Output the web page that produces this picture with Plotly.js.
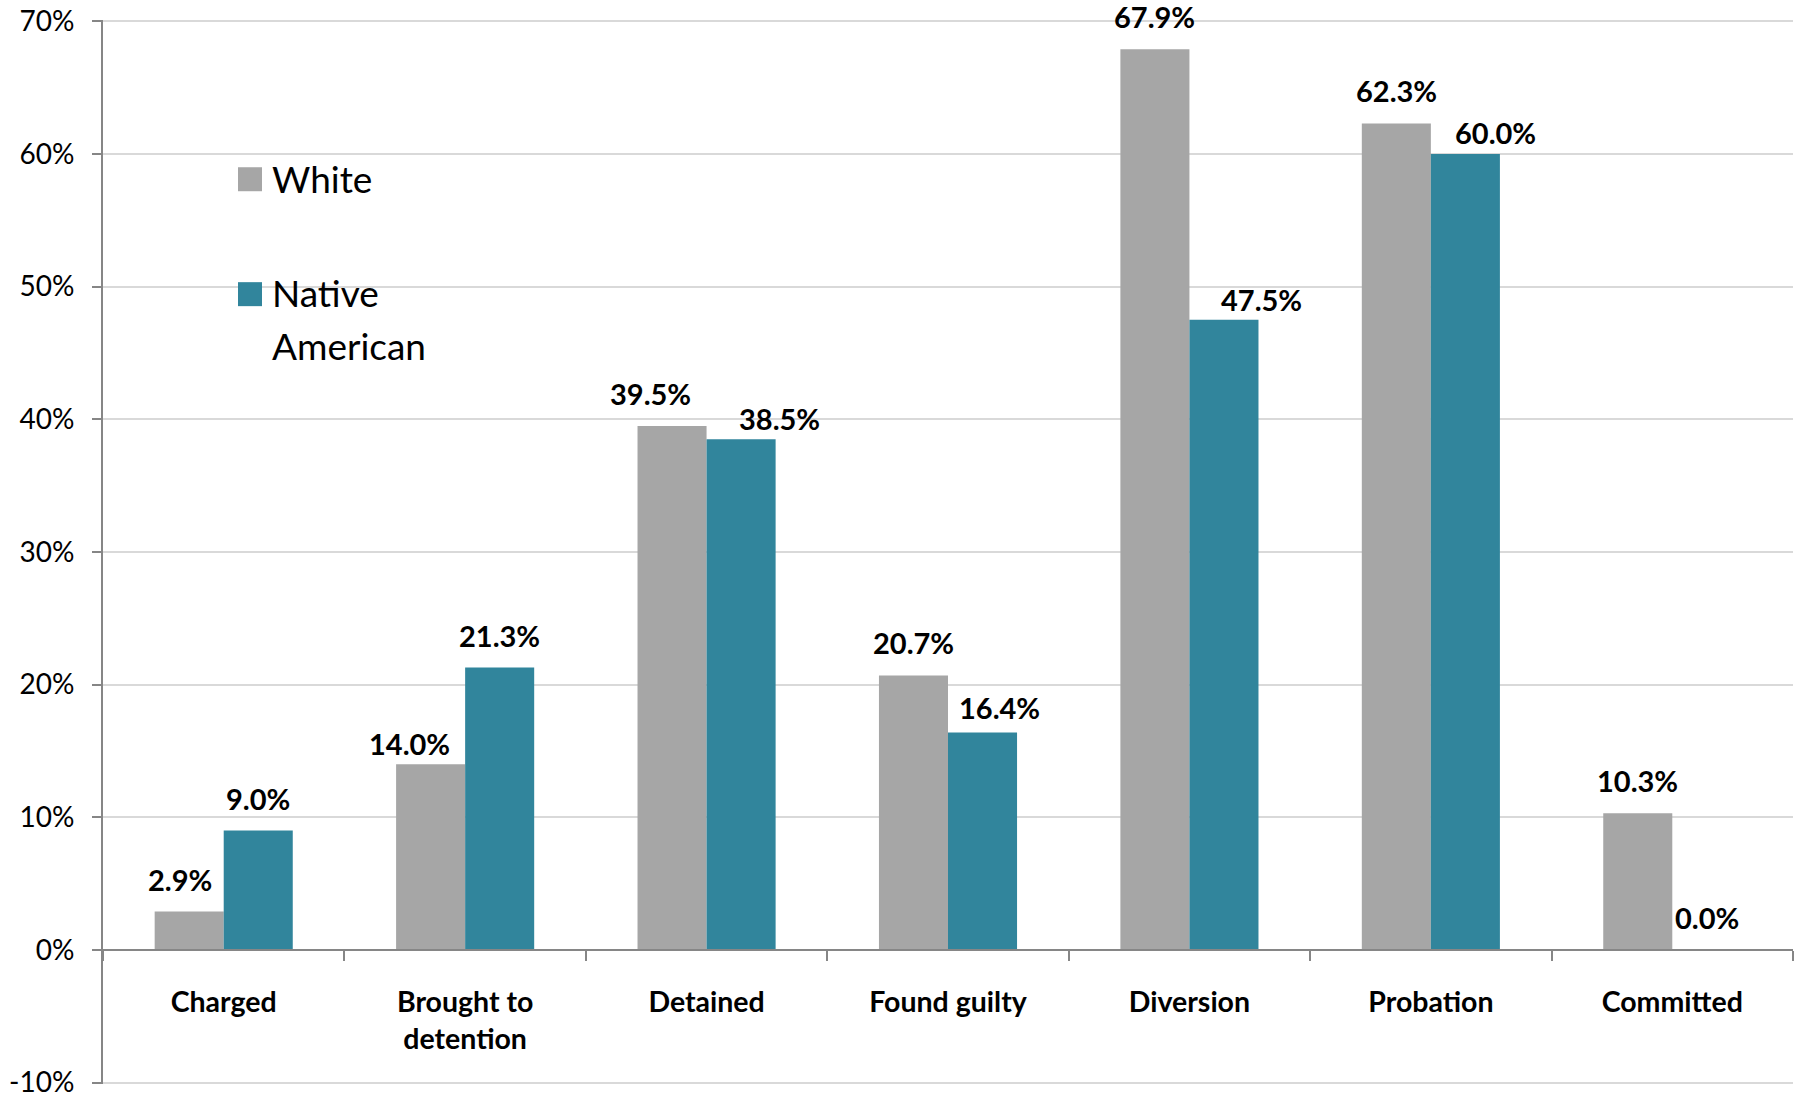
<!DOCTYPE html>
<html>
<head>
<meta charset="utf-8">
<script src="https://cdn.plot.ly/plotly-3.0.1.min.js"></script>
<style>
  html, body { margin: 0; padding: 0; background: #ffffff; }
  #chart { width: 1803px; height: 1097px; }
</style>
</head>
<body>
<div id="chart"></div>
<script>
// Case-processing stages
const stages = ['Charged', 'Brought to<br>detention', 'Detained', 'Found guilty', 'Diversion', 'Probation', 'Committed'];

// Percentages per group
const seriesNames = ['White', 'Native American'];
const whiteValues = [2.9, 14.0, 39.5, 20.7, 67.9, 62.3, 10.3];
const nativeValues = [9.0, 21.3, 38.5, 16.4, 47.5, 60.0, 0.0];

// Value axis ticks
const yTickVals = [-10, 0, 10, 20, 30, 40, 50, 60, 70];
const yTickText = ['-10%', '0%', '10%', '20%', '30%', '40%', '50%', '60%', '70%'];

// Hand-placed label offsets (px; +x right, +y down) so neighbouring labels don't collide
const labelNudge = [
  { dx: [-9, -21, -22, 0, 0, 0, 0], dy: [0, 12, 0, 0, 0, 0, 0] },
  { dx: [0, 0, 38, 17, 38, 30, 0], dy: [0, 1, 12, 8, 12, 11, 0] }
];

const colors = ['#A6A6A6', '#31859C'];
const FONT = 'Lato, "Open Sans", sans-serif';
const W = 1803, H = 1097;
// Range is padded slightly so the end gridlines (-10% and 70%) are kept
const Y_RANGE = [-10.1, 70.1];
const M = { l: 103, r: 10, t: 19.67, b: 12.67 };
const BARGAP = 0.428;

const plotW = W - M.l - M.r;
const plotH = H - M.t - M.b;
const px2x = p => (p - M.l) / plotW;
const px2y = p => (H - M.b - p) / plotH;

const values = [whiteValues, nativeValues];

const traces = values.map((vals, i) => ({
  type: 'bar',
  name: seriesNames[i],
  x: stages,
  y: vals,
  marker: { color: colors[i], line: { width: 0 } },
  hoverinfo: 'skip',
  showlegend: false
}));

// Value labels above each bar
const halfBar = (1 - BARGAP) / 4;
const annotations = [];
values.forEach((vals, i) => {
  vals.forEach((v, j) => {
    annotations.push({
      x: j + (i === 0 ? -halfBar : halfBar),
      y: v,
      xref: 'x', yref: 'y',
      text: v.toFixed(1) + '%',
      showarrow: false,
      xanchor: 'center', yanchor: 'bottom',
      xshift: labelNudge[i].dx[j],
      yshift: 13 - labelNudge[i].dy[j],
      font: { family: FONT, size: 29, color: '#000000', weight: 'bold' }
    });
  });
});

// Legend: swatches with labels
const legendRows = [
  { swatchTop: 167, lines: [{ text: 'White', cy: 178 }] },
  { swatchTop: 282, lines: [{ text: 'Native', cy: 292 }, { text: 'American', cy: 345 }] }
];
const shapes = [];
legendRows.forEach((row, i) => {
  shapes.push({
    type: 'rect', xref: 'paper', yref: 'paper',
    x0: px2x(238), x1: px2x(262),
    y0: px2y(row.swatchTop + 24), y1: px2y(row.swatchTop),
    fillcolor: colors[i], line: { width: 0 }
  });
  row.lines.forEach(l => {
    annotations.push({
      xref: 'paper', yref: 'paper',
      x: px2x(270), y: px2y(l.cy),
      xanchor: 'left', yanchor: 'middle',
      text: l.text, showarrow: false,
      font: { family: FONT, size: 37, color: '#000000' }
    });
  });
});

const layout = {
  width: W, height: H,
  margin: M,
  paper_bgcolor: '#ffffff',
  plot_bgcolor: '#ffffff',
  barmode: 'group',
  bargap: BARGAP,
  bargroupgap: 0,
  showlegend: false,
  font: { family: FONT, color: '#000000' },
  xaxis: {
    type: 'category',
    anchor: 'free',
    position: (0 - Y_RANGE[0]) / (Y_RANGE[1] - Y_RANGE[0]),
    showline: true, linecolor: '#868686', linewidth: 2,
    ticks: 'outside', tickson: 'boundaries', ticklen: 10, tickwidth: 2, tickcolor: '#868686',
    ticklabelstandoff: 27,
    showgrid: false, zeroline: false,
    tickfont: { family: FONT, size: 28.5, color: '#000000', weight: 'bold' }
  },
  yaxis: {
    range: Y_RANGE,
    tickvals: yTickVals, ticktext: yTickText,
    showline: true, linecolor: '#868686', linewidth: 2,
    ticks: 'outside', ticklen: 9, tickwidth: 2, tickcolor: '#868686',
    ticklabelstandoff: 12,
    ticklabeloverflow: 'allow',
    showgrid: true, gridcolor: '#D9D9D9', gridwidth: 2,
    zeroline: false,
    tickfont: { family: FONT, size: 28, color: '#000000' }
  },
  shapes: shapes,
  annotations: annotations
};

Plotly.newPlot('chart', traces, layout, { displayModeBar: false, staticPlot: true });
</script>
</body>
</html>
